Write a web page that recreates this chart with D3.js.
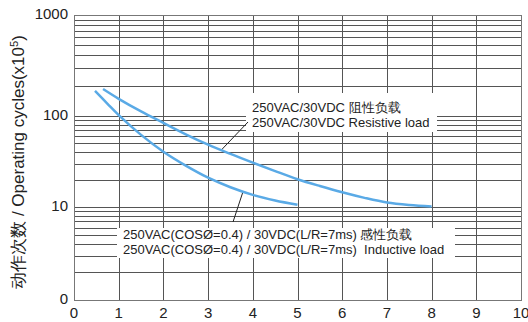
<!DOCTYPE html>
<html>
<head>
<meta charset="utf-8">
<script src="https://cdn.jsdelivr.net/npm/d3@7"></script>
<style>
  body { margin: 0; background: #fff; }
  text { font-family: "Liberation Sans", Arial, sans-serif; fill: #222; }
</style>
</head>
<body>
<div id="chart"></div>
<script>
// operating cycles vs current, log y

const xTicks = [0, 1, 2, 3, 4, 5, 6, 7, 8, 9, 10];
const yTickValues = [1, 10, 100, 1000];
const yTickLabels = ["0", "10", "100", "1000"];

// 250VAC/30VDC resistive load
const resistiveX = [0.65, 1, 1.5, 2, 2.5, 3, 3.5, 4, 4.5, 5, 5.5, 6, 6.5, 7, 7.5, 8];
const resistiveY = [185, 148, 111, 84, 63, 48.4, 38.3, 30.7, 24.8, 20.2, 17, 14.5, 12.6, 11.2, 10.5, 10.1];

// inductive load
const inductiveX = [0.47, 0.75, 1, 1.5, 2, 2.5, 3, 3.5, 4, 4.5, 5];
const inductiveY = [177, 132, 102, 62, 40.5, 28.5, 21, 16.5, 13.6, 11.8, 10.6];

const resistiveLabel = ["250VAC/30VDC 阻性负载", "250VAC/30VDC Resistive load"];
const inductiveLabel = ["250VAC(COSØ=0.4) / 30VDC(L/R=7ms) 感性负载", "250VAC(COSØ=0.4) / 30VDC(L/R=7ms)  Inductive load"];

const width = 528, height = 322;

const svg = d3.select("#chart")
    .append("svg")
    .attr("width", width)
    .attr("height", height);

const x = d3.scaleLinear().domain([0, 10]).range([74, 521]);
// decades are not evenly spaced in the original, so anchor each one
const y = d3.scaleLog().domain([1, 10, 100, 1000]).range([300, 207, 116, 15]);

// grid
const grid = svg.append("g").attr("shape-rendering", "crispEdges");
grid.selectAll(".hgrid")
    .data(y.ticks())
    .enter()
    .append("line")
    .attr("x1", x(0)).attr("x2", x(10))
    .attr("y1", d => Math.round(y(d)) + 0.5)
    .attr("y2", d => Math.round(y(d)) + 0.5)
    .attr("stroke", "#555")
    .attr("stroke-width", 1);

grid.selectAll(".vgrid")
    .data(xTicks.slice(1, -1))
    .enter()
    .append("line")
    .attr("x1", d => Math.round(x(d)) + 0.5)
    .attr("x2", d => Math.round(x(d)) + 0.5)
    .attr("y1", y(1000)).attr("y2", y(1))
    .attr("stroke", "#555")
    .attr("stroke-width", 1);

// plot border
grid.append("rect")
    .attr("x", x(0) + 0.5)
    .attr("y", y(1000) + 0.5)
    .attr("width", x(10) - x(0))
    .attr("height", y(1) - y(1000))
    .attr("fill", "none")
    .attr("stroke", "#777");

// axis labels
svg.selectAll(".xlabel")
    .data(xTicks)
    .enter()
    .append("text")
    .attr("x", d => x(d))
    .attr("y", 318)
    .attr("text-anchor", "middle")
    .style("font-size", "15px")
    .text(d => d);

svg.selectAll(".ylabel")
    .data(yTickValues)
    .enter()
    .append("text")
    .attr("x", 68)
    .attr("y", d => y(d) + 3.5)
    .attr("text-anchor", "end")
    .style("font-size", "15px")
    .text((d, i) => yTickLabels[i]);

const title = svg.append("text")
    .attr("transform", "translate(24, 162) rotate(-90)")
    .attr("text-anchor", "middle")
    .style("font-size", "17px");
title.append("tspan").text("动作次数 / Operating cycles(x10");
title.append("tspan").attr("dy", -6).style("font-size", "11px").text("5");
title.append("tspan").attr("dy", 6).text(")");

// label boxes cover the grid
svg.append("rect").attr("x", 246).attr("y", 93).attr("width", 191).attr("height", 39).attr("fill", "#fff");
svg.append("rect").attr("x", 117).attr("y", 228).attr("width", 338).attr("height", 30).attr("fill", "#fff");

// leader lines
svg.append("line")
    .attr("x1", x(3.3)).attr("y1", y(42.5))
    .attr("x2", 248).attr("y2", 122)
    .attr("stroke", "#222").attr("stroke-width", 1);
svg.append("line")
    .attr("x1", x(3.78)).attr("y1", y(14.7))
    .attr("x2", 233).attr("y2", 222)
    .attr("stroke", "#222").attr("stroke-width", 1);

// curves
const line = d3.line()
    .x(d => x(d[0]))
    .y(d => y(d[1]))
    .curve(d3.curveCatmullRom.alpha(0.5));

svg.append("path")
    .datum(d3.zip(resistiveX, resistiveY))
    .attr("d", line)
    .attr("fill", "none")
    .attr("stroke", "#5aaae6")
    .attr("stroke-width", 2.5);

svg.append("path")
    .datum(d3.zip(inductiveX, inductiveY))
    .attr("d", line)
    .attr("fill", "none")
    .attr("stroke", "#5aaae6")
    .attr("stroke-width", 2.5);

// curve labels
svg.selectAll(".rlabel")
    .data(resistiveLabel)
    .enter()
    .append("text")
    .attr("x", 252)
    .attr("y", (d, i) => 111.5 + i * 15)
    .style("font-size", "13px")
    .text(d => d);

svg.selectAll(".ilabel")
    .data(inductiveLabel)
    .enter()
    .append("text")
    .attr("x", 123)
    .attr("y", (d, i) => 238.5 + i * 15)
    .style("font-size", "13px")
    .style("white-space", "pre")
    .text(d => d);
</script>
</body>
</html>
